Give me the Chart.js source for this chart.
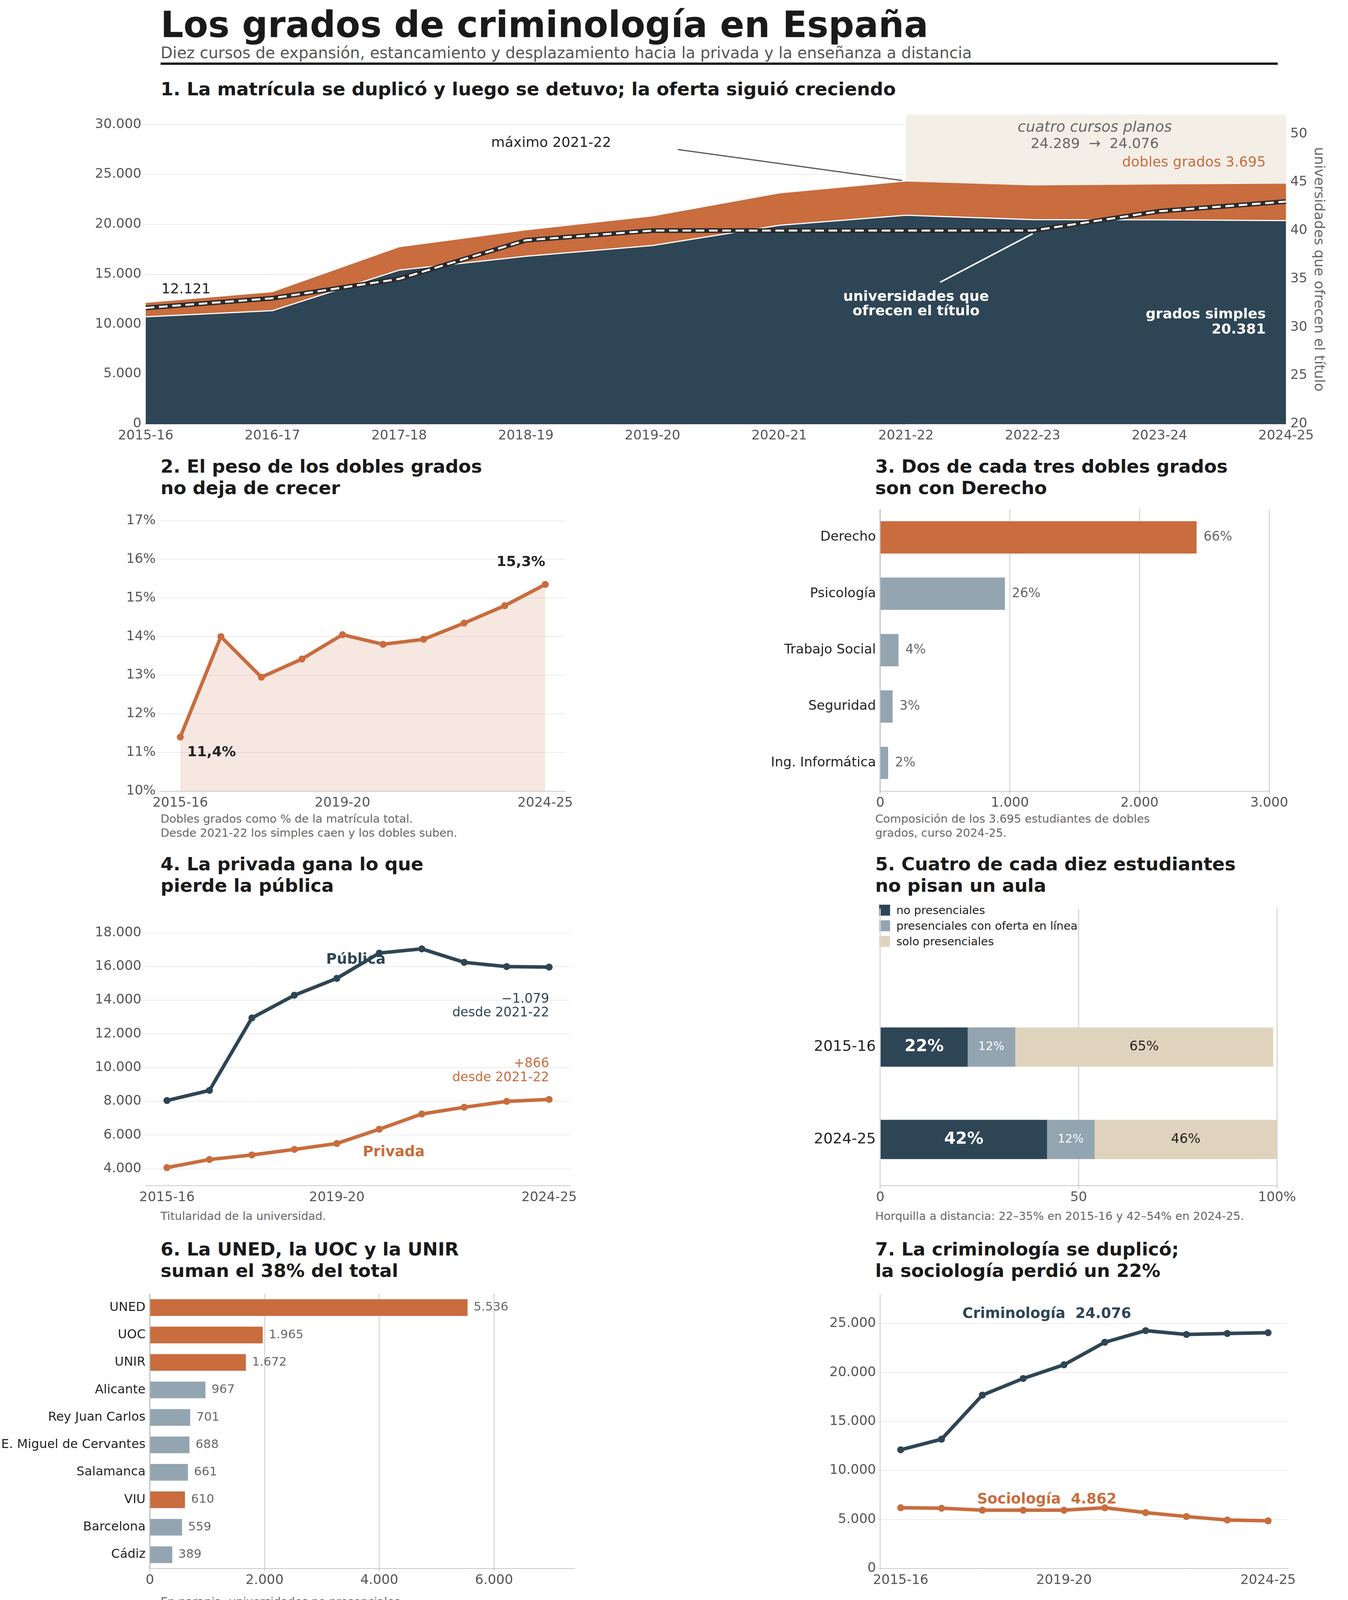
<!DOCTYPE html>
<html><head><meta charset="utf-8">
<script src="https://cdn.jsdelivr.net/npm/chart.js@4.4.1/dist/chart.umd.min.js"></script>
<style>
body{margin:0;width:3450px;height:4170px;background:#fff;position:relative;font-family:"DejaVu Sans";overflow:hidden}
.a{position:absolute;white-space:pre}
canvas{position:absolute}
.h{font-weight:bold;font-size:47px;color:#1a1a1a;line-height:55px}
.c{font-size:29px;color:#666;line-height:36px}
.sq{display:inline-block;width:28px;height:28px;vertical-align:-4px;margin-right:16px}
</style></head><body>
<div class="a" style="left:411px;top:10px;font-size:92px;font-weight:bold;color:#1a1a1a">Los grados de criminología en España</div>
<div class="a" style="left:411px;top:112px;font-size:40px;color:#555">Diez cursos de expansión, estancamiento y desplazamiento hacia la privada y la enseñanza a distancia</div>
<div class="a" style="left:411px;top:160px;width:2859px;height:6px;background:#1a1a1a"></div>
<div class="a h" style="left:411px;top:200px">1. La matrícula se duplicó y luego se detuvo; la oferta siguió creciendo</div>
<div class="a h" style="left:411px;top:1166px">2. El peso de los dobles grados
no deja de crecer</div>
<div class="a h" style="left:2240px;top:1166px">3. Dos de cada tres dobles grados
son con Derecho</div>
<div class="a h" style="left:411px;top:2184px">4. La privada gana lo que
pierde la pública</div>
<div class="a h" style="left:2240px;top:2184px">5. Cuatro de cada diez estudiantes
no pisan un aula</div>
<div class="a h" style="left:411px;top:3170px">6. La UNED, la UOC y la UNIR
suman el 38% del total</div>
<div class="a h" style="left:2240px;top:3170px">7. La criminología se duplicó;
la sociología perdió un 22%</div>
<div class="a c" style="left:411px;top:2078px">Dobles grados como % de la matrícula total.
Desde 2021-22 los simples caen y los dobles suben.</div>
<div class="a c" style="left:2240px;top:2078px">Composición de los 3.695 estudiantes de dobles
grados, curso 2024-25.</div>
<div class="a c" style="left:411px;top:3095px">Titularidad de la universidad.</div>
<div class="a c" style="left:2240px;top:3095px">Horquilla a distancia: 22–35% en 2015-16 y 42–54% en 2024-25.</div>
<div class="a c" style="left:411px;top:4082px">En naranja, universidades no presenciales.
Solo grados simples, curso 2024-25.</div>
<div class="a c" style="left:2240px;top:4100px">Grados de sociología: 4.862 estudiantes en 18 universidades.</div>
<div class="a" style="left:2250px;top:2310px;font-size:29px;color:#222;line-height:40px"><span class="sq" style="background:#2e4555"></span>no presenciales
<span class="sq" style="background:#93a5b1"></span>presenciales con oferta en línea
<span class="sq" style="background:#e0d3bd"></span>solo presenciales</div>

<canvas id="c1" width="3170" height="870" style="left:240px;top:270px"></canvas>
<canvas id="c2" width="1150" height="800" style="left:320px;top:1280px"></canvas>
<canvas id="c3" width="1330" height="800" style="left:1970px;top:1280px"></canvas>
<canvas id="c4" width="1240" height="790" style="left:240px;top:2300px"></canvas>
<canvas id="c5" width="1240" height="790" style="left:2080px;top:2300px"></canvas>
<canvas id="c6" width="1480" height="780" style="left:0px;top:3290px"></canvas>
<canvas id="c7" width="1200" height="780" style="left:2120px;top:3290px"></canvas>
<script>
const years=['2015-16','2016-17','2017-18','2018-19','2019-20','2020-21','2021-22','2022-23','2023-24','2024-25'];
const simples=[10740,11350,15410,16800,17880,19910,20910,20470,20450,20381];
const dobles=[1381,1850,2290,2600,2920,3190,3379,3430,3550,3695];
const universidades=[32,33,35,39,40,40,40,40,42,43];
const pctDobles=[11.4,14.0,12.95,13.42,14.05,13.8,13.93,14.35,14.8,15.35];
const dobleLabels=['Derecho','Psicología','Trabajo Social','Seguridad','Ing. Informática'];
const dobleValues=[2439,961,140,95,60];
const dobleShare=['66%','26%','4%','3%','2%'];
const publica=[8050,8650,12950,14300,15300,16800,17050,16250,16000,15971];
const privada=[4070,4550,4820,5150,5500,6350,7250,7650,8000,8116];
const modoCursos=['','2015-16','2024-25'];
const noPres=[null,22,42];
const presLinea=[null,12,12];
const soloPres=[null,65,46];
const uniLabels=['UNED','UOC','UNIR','Alicante','Rey Juan Carlos','E. Miguel de Cervantes','Salamanca','VIU','Barcelona','Cádiz'];
const uniValues=[5536,1965,1672,967,701,688,661,610,559,389];
const uniDistancia=[true,true,true,false,false,false,false,true,false,false];
const criminologia=simples.map((s,i)=>s+dobles[i]);
const sociologia=[6200,6150,5950,5950,5950,6200,5700,5300,4950,4862];

const DARK='#2e4555',OR='#c96c3e',GR='#93a5b1',BE='#e0d3bd';
Chart.defaults.font.family='DejaVu Sans';Chart.defaults.font.size=34;Chart.defaults.color='#555';
Chart.defaults.animation=false;Chart.defaults.responsive=false;Chart.defaults.devicePixelRatio=1;
Chart.defaults.plugins.legend.display=false;Chart.defaults.plugins.tooltip.enabled=false;
const fmt=n=>String(Math.round(n)).replace(/\B(?=(\d{3})+(?!\d))/g,'.');
const GRID='#d9d9d9';
const fix=arr=>s=>{s.ticks=arr.map(v=>({value:v}));};
function txt(ctx,s,x,y,o={}){ctx.save();ctx.font=(o.style||'')+' '+(o.w||'normal')+' '+(o.size||34)+'px DejaVu Sans';ctx.fillStyle=o.c||'#222';ctx.textAlign=o.al||'left';ctx.textBaseline='middle';ctx.fillText(s,x,y);ctx.restore();}
function line(ctx,x1,y1,x2,y2,c,w){ctx.save();ctx.strokeStyle=c;ctx.lineWidth=w;ctx.beginPath();ctx.moveTo(x1,y1);ctx.lineTo(x2,y2);ctx.stroke();ctx.restore();}
function P(id,fn,pre){return {id,afterDatasetsDraw:fn,beforeDatasetsDraw:pre};}
const xi=(c,i)=>{const s=c.scales.x;const a=s.getPixelForValue(Math.floor(i)),b=s.getPixelForValue(Math.min(Math.ceil(i),9));return a+(b-a)*(i-Math.floor(i));};

new Chart(c1,{type:'line',data:{labels:years,datasets:[
{data:simples,yAxisID:'y',fill:'origin',backgroundColor:DARK,borderColor:'#fff',borderWidth:3,pointRadius:0,tension:0,order:3},
{data:dobles,yAxisID:'y',fill:'-1',backgroundColor:OR,borderWidth:0,pointRadius:0,order:3},
{data:universidades,yAxisID:'y2',borderColor:'#2a2a2a',borderWidth:12,pointRadius:0,fill:false,order:2},
{data:universidades,yAxisID:'y2',borderColor:'#fff',borderWidth:5,borderDash:[22,12],pointRadius:0,fill:false,order:1}]},
options:{layout:{padding:{top:10,right:10}},scales:{
x:{offset:false,grid:{display:false},border:{color:'#333'},ticks:{autoSkip:false,maxRotation:0}},
y:{stacked:true,min:0,max:31000,afterBuildTicks:fix([0,5000,10000,15000,20000,25000,30000]),ticks:{callback:v=>fmt(v)},grid:{color:GRID},border:{display:false}},
y2:{position:'right',min:20,max:52,afterBuildTicks:fix([20,25,30,35,40,45,50]),grid:{display:false},border:{display:false},title:{display:true,text:'universidades que ofrecen el título',color:'#666',font:{size:36}}}}},
plugins:[P('p1',c=>{const x=c.ctx,y=c.scales.y,y2=c.scales.y2;
 txt(x,'12.121',xi(c,0)+40,y.getPixelForValue(13440),{size:36});
 txt(x,'máximo 2021-22',xi(c,3.2),y.getPixelForValue(28130),{size:36,al:'center'});
 line(x,xi(c,4.2),y.getPixelForValue(27500),xi(c,6)-10,y.getPixelForValue(24400),'#555',3);
 txt(x,'cuatro cursos planos',xi(c,7.49),y.getPixelForValue(29680),{size:38,style:'italic',c:'#666',al:'center'});
 txt(x,'24.289  →  24.076',xi(c,7.49),y.getPixelForValue(28020),{size:36,c:'#666',al:'center'});
 txt(x,'dobles grados 3.695',xi(c,8.84),y.getPixelForValue(26160),{size:36,c:OR,al:'right'});
 line(x,xi(c,6.27),y.getPixelForValue(14200),xi(c,7),y2.getPixelForValue(40)+8,'#fff',4);
 txt(x,'universidades que',xi(c,6.08),y.getPixelForValue(12720),{size:36,w:'bold',c:'#fff',al:'center'});
 txt(x,'ofrecen el título',xi(c,6.08),y.getPixelForValue(11270),{size:36,w:'bold',c:'#fff',al:'center'});
 txt(x,'grados simples',xi(c,8.84),y.getPixelForValue(10960),{size:36,w:'bold',c:'#fff',al:'right'});
 txt(x,'20.381',xi(c,8.84),y.getPixelForValue(9410),{size:36,w:'bold',c:'#fff',al:'right'});
},c=>{const x=c.ctx,a=c.chartArea;x.save();x.fillStyle='#f3eee6';const l=xi(c,6);x.fillRect(l,a.top,a.right-l,a.bottom-a.top);x.restore();})]});

const catX=(lab)=>({offset:true,grid:{display:false},border:{color:'#999'},ticks:{autoSkip:false,maxRotation:0,callback:(v,i)=>[0,4,9].includes(i)?lab[i]:''}});
new Chart(c2,{type:'line',data:{labels:years,datasets:[{data:pctDobles,borderColor:OR,borderWidth:9,backgroundColor:'rgba(201,108,62,0.16)',fill:'origin',pointRadius:9,pointBackgroundColor:OR,pointBorderWidth:0}]},
options:{layout:{padding:{top:10,right:10}},scales:{x:catX(years),y:{min:10,max:17.3,afterBuildTicks:fix([10,11,12,13,14,15,16,17]),ticks:{callback:v=>v+'%'},grid:{color:GRID},border:{display:false}}}},
plugins:[P('p2',c=>{const x=c.ctx,y=c.scales.y;txt(x,'15,3%',xi(c,8.4),y.getPixelForValue(15.92),{w:'bold',size:36,al:'center'});txt(x,'11,4%',xi(c,0.77),y.getPixelForValue(11.0),{w:'bold',size:36,al:'center'});})]});

new Chart(c3,{type:'bar',data:{labels:dobleLabels,datasets:[{data:dobleValues,backgroundColor:[OR,GR,GR,GR,GR],barThickness:82}]},
options:{indexAxis:'y',layout:{padding:{top:10,right:40}},scales:{x:{min:0,max:3000,ticks:{stepSize:1000,callback:v=>fmt(v)},grid:{color:GRID,lineWidth:3},border:{color:'#999'}},y:{grid:{display:false},border:{color:'#999'},ticks:{color:'#222'}}}},
plugins:[P('p3',c=>{const m=c.getDatasetMeta(0);m.data.forEach((b,i)=>txt(c.ctx,dobleShare[i],b.x+18,b.y,{c:'#666',size:33}));})]});

new Chart(c4,{type:'line',data:{labels:years,datasets:[
{data:publica,borderColor:DARK,borderWidth:9,pointRadius:9,pointBackgroundColor:DARK,pointBorderWidth:0},
{data:privada,borderColor:OR,borderWidth:9,pointRadius:9,pointBackgroundColor:OR,pointBorderWidth:0}]},
options:{layout:{padding:{top:10,right:10}},scales:{x:catX(years),y:{min:3000,max:19500,afterBuildTicks:fix([4000,6000,8000,10000,12000,14000,16000,18000]),ticks:{callback:v=>fmt(v)},grid:{color:GRID},border:{display:false}}}},
plugins:[P('p4',c=>{const x=c.ctx,y=c.scales.y,r=xi(c,9);
 txt(x,'Pública',xi(c,4.45),y.getPixelForValue(16400),{w:'bold',size:37,c:DARK,al:'center'});
 txt(x,'−1.079',r,y.getPixelForValue(14060),{size:33,c:DARK,al:'right'});
 txt(x,'desde 2021-22',r,y.getPixelForValue(13230),{size:33,c:DARK,al:'right'});
 txt(x,'+866',r,y.getPixelForValue(10230),{size:33,c:OR,al:'right'});
 txt(x,'desde 2021-22',r,y.getPixelForValue(9400),{size:33,c:OR,al:'right'});
 txt(x,'Privada',xi(c,5.34),y.getPixelForValue(4960),{w:'bold',size:37,c:OR,al:'center'});})]});

new Chart(c5,{type:'bar',data:{labels:modoCursos,datasets:[
{data:noPres,backgroundColor:DARK,barThickness:100},{data:presLinea,backgroundColor:GR,barThickness:100},{data:soloPres,backgroundColor:BE,barThickness:100}]},
options:{indexAxis:'y',layout:{padding:{top:10,right:30}},scales:{x:{stacked:true,min:0,max:100,ticks:{stepSize:50,callback:v=>v===100?'100%':v},grid:{color:GRID,lineWidth:3},border:{color:'#999'}},y:{stacked:true,grid:{display:false},border:{display:false},ticks:{color:'#222',font:{size:38}}}}},
plugins:[P('p5',c=>{[0,1,2].forEach(d=>{c.getDatasetMeta(d).data.forEach((b,i)=>{const v=c.data.datasets[d].data[i];if(v==null)return;const cx=(b.x+b.base)/2;
 if(d===0)txt(c.ctx,v+'%',cx,b.y,{w:'bold',size:42,c:'#fff',al:'center'});
 else if(d===1)txt(c.ctx,v+'%',cx,b.y,{size:30,c:'#fff',al:'center'});
 else txt(c.ctx,v+'%',cx,b.y,{size:34,c:'#222',al:'center'});});});})]});

new Chart(c6,{type:'bar',data:{labels:uniLabels,datasets:[{data:uniValues,backgroundColor:uniDistancia.map(d=>d?OR:GR),barThickness:42}]},
options:{indexAxis:'y',layout:{padding:{top:10,right:10}},scales:{x:{min:0,max:7400,afterBuildTicks:fix([0,2000,4000,6000]),ticks:{callback:v=>fmt(v)},grid:{color:GRID,lineWidth:3},border:{color:'#999'}},y:{grid:{display:false},border:{color:'#999'},ticks:{color:'#222',font:{size:32}}}}},
plugins:[P('p6',c=>{c.getDatasetMeta(0).data.forEach((b,i)=>txt(c.ctx,fmt(uniValues[i]),b.x+16,b.y,{c:'#666',size:31}));})]});

new Chart(c7,{type:'line',data:{labels:years,datasets:[
{data:criminologia,borderColor:DARK,borderWidth:9,pointRadius:9,pointBackgroundColor:DARK,pointBorderWidth:0},
{data:sociologia,borderColor:OR,borderWidth:9,pointRadius:9,pointBackgroundColor:OR,pointBorderWidth:0}]},
options:{layout:{padding:{top:10,right:10}},scales:{x:catX(years),y:{min:0,max:28000,afterBuildTicks:fix([0,5000,10000,15000,20000,25000]),ticks:{callback:v=>fmt(v)},grid:{color:GRID},border:{color:'#999'}}}},
plugins:[P('p7',c=>{const x=c.ctx,y=c.scales.y;
 txt(x,'Criminología  24.076',xi(c,3.58),y.getPixelForValue(25950),{w:'bold',size:37,c:DARK,al:'center'});
 txt(x,'Sociología  4.862',xi(c,3.58),y.getPixelForValue(7000),{w:'bold',size:37,c:OR,al:'center'});})]});
</script></body></html>
